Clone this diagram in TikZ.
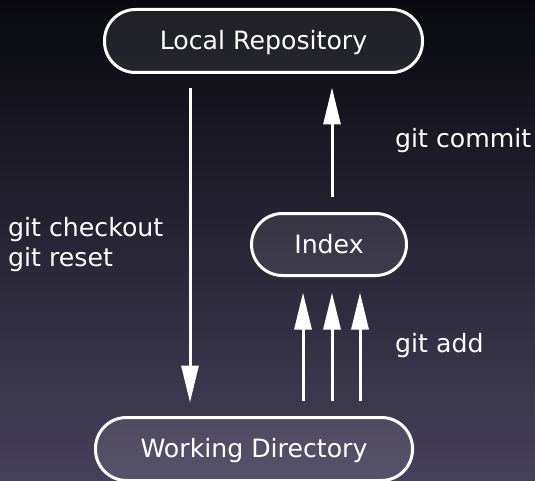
\documentclass[tikz,border=0pt]{standalone}
\usepackage{fontspec}
\setmainfont{DejaVu Sans}
\usetikzlibrary{arrows.meta}
\definecolor{bgtop}{HTML}{08080E}
\definecolor{bgmid}{HTML}{191A2E}
\definecolor{bgbot}{HTML}{46415A}
\tikzset{
  box/.style={draw=white, line width=3pt, fill=white, fill opacity=0.09, text opacity=1,
    rounded corners=31pt, inner sep=0pt, text=white, font=\fontsize{25.2pt}{30pt}\selectfont,
    text height=17pt, text depth=0pt},
  lbl/.style={text=white, font=\fontsize{25.2pt}{30pt}\selectfont, inner sep=0pt, anchor=base west},
  arr/.style={draw=white, line width=3pt, -{Triangle[width=17pt,length=37pt]}},
}
\begin{document}
\begin{tikzpicture}[x=1pt,y=-1pt]
\useasboundingbox (0,0) rectangle (535,481);
\shade[top color=bgtop, middle color=bgmid, bottom color=bgbot] (0,0) rectangle (535,481);
\node[box, minimum width=318pt, minimum height=63pt] (local) at (263.5,41) {Local Repository};
\node[box, minimum width=155pt, minimum height=62pt] (index) at (329,244.5) {Index};
\node[box, minimum width=317pt, minimum height=63pt] (work) at (254,449) {Working Directory};
\coordinate (xd) at (190,0);
\coordinate (xc) at (332,0);
\coordinate (xa1) at (303,0);
\coordinate (xa2) at (332,0);
\coordinate (xa3) at (360,0);
\draw[arr, shorten <=14.5pt, shorten >=13.5pt] (local.south -| xd) -- (work.north -| xd);
\draw[arr, shorten <=14.5pt, shorten >=13.5pt] (index.north -| xc) -- (local.south -| xc);
\draw[arr, shorten <=15.5pt, shorten >=15.5pt] (work.north -| xa1) -- (index.south -| xa1);
\draw[arr, shorten <=15.5pt, shorten >=15.5pt] (work.north -| xa2) -- (index.south -| xa2);
\draw[arr, shorten <=15.5pt, shorten >=15.5pt] (work.north -| xa3) -- (index.south -| xa3);
\node[lbl] (commit) at (395,148) {git commit};
\node[lbl] (checkout) at (8,236) {git checkout};
\node[lbl] (reset) at (8,266) {git reset};
\node[lbl] (add) at (395,352) {git add};
\end{tikzpicture}
\end{document}
